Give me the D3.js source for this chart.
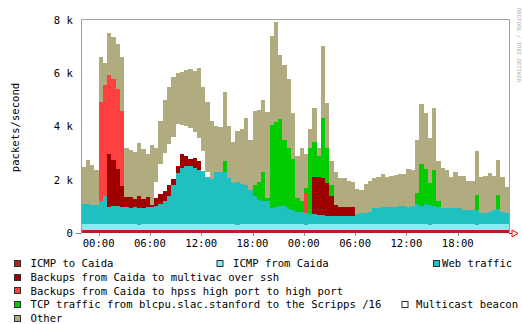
<!DOCTYPE html>
<html>
<head>
<meta charset="utf-8">
<script src="https://cdn.jsdelivr.net/npm/d3@7"></script>
<style>
  html, body { margin: 0; padding: 0; background: #fff; }
  svg { display: block; }
  text { font-family: "DejaVu Sans Mono", monospace; font-size: 10.6px; fill: #000; }
</style>
</head>
<body>
<svg id="chart" width="522" height="324"></svg>
<script>
// Traffic breakdown, packets/second, 30-minute samples starting 22:00.
const seriesKeys = ["icmpTo", "icmpFrom", "web", "multivac", "hpss", "tcp", "multicast", "other"];
const seriesLabels = [
  "ICMP to Caida",
  "ICMP from Caida",
  "Web traffic",
  "Backups from Caida to multivac over ssh",
  "Backups from Caida to hpss high port to high port",
  "TCP traffic from blcpu.slac.stanford to the Scripps /16",
  "Multicast beacon",
  "Other"
];
const yTickValues = [0, 2000, 4000, 6000, 8000];
const yTickLabels = ["0", "2 k", "4 k", "6 k", "8 k"];

const icmpTo = [110,112,108,110,115,110,105,112,110,108, 110,112,110,95,110,108,112,110,110,105,
  110,108,112,110,115,110,108,110,112,110, 105,110,112,108,110,110,95,110,112,110,
  108,110,112,110,105,110,108,112,110,110, 110,108,95,110,112,110,108,110,110,112,
  105,110,108,110,112,110,110,95,110,108, 112,110,110,105,110,112,108,110,110,112,
  110,95,110,108,112,110,110,105,110,108, 112,110,95,110,110,108,112,110,110,105];
const icmpFrom = [215,225,220,218,230,222,220,215,225,220, 218,222,230,220,215,222,220,225,218,220,
  222,215,220,230,220,218,225,220,215,222, 220,225,218,220,222,230,215,220,225,218,
  220,222,215,220,225,230,218,220,222,215, 220,225,220,218,222,215,230,220,225,218,
  222,220,215,225,220,222,218,230,220,215, 225,220,222,218,220,225,215,230,220,222,
  218,220,225,215,222,220,230,218,220,225, 215,222,220,218,225,220,222,230,215,220];
const web = [770,750,730,720,870,1070,670,670,670,650, 650,620,620,640,630,630,650,670,770,890,
  1070,1470,1920,2120,2170,2170,2120,2040,2020,1770, 1720,1970,1970,1970,1720,1540,1600,1520,1470,1270,
  1070,920,870,870,620,620,670,670,570,530, 470,470,450,390,370,350,350,320,300,300,
  300,300,300,320,390,420,420,470,620,620, 650,640,650,670,670,660,660,660,770,670,
  770,720,670,670,620,600,600,620,620,530, 530,530,550,420,410,450,530,570,470,410];
const multivac = [0,0,0,0,0,0,1990,1750,1400,770, 380,410,300,450,340,390,70,300,350,380,
  400,250,250,500,400,300,350,330,0,0, 0,0,0,0,0,0,0,0,0,0,
  0,0,0,0,0,0,0,0,0,0, 0,0,0,0,1400,1420,1370,1220,770,420,
  350,350,350,330,0,0,0,0,0,0, 0,0,0,0,0,0,0,0,0,0,
  0,0,0,0,0,0,0,0,0,0, 0,0,0,0,0,0,0,0,0,0];
const hpss = [0,0,0,0,3700,4160,2940,3050,3000,2850, 0,0,0,0,0,0,0,0,0,0,
  0,0,0,0,0,0,0,0,0,0, 0,0,0,0,0,0,0,0,0,0,
  0,0,0,0,0,0,0,0,0,0, 0,0,720,0,0,0,0,0,0,0,
  0,0,0,0,0,0,0,0,0,0, 0,0,0,0,0,0,0,0,0,0,
  0,0,0,0,0,0,0,0,0,0, 0,0,0,0,0,0,0,0,0,0];
const tcp = [0,0,0,0,0,0,0,0,0,0, 0,0,0,0,0,0,0,0,0,0,
  0,0,0,0,0,0,0,0,0,0, 0,0,0,400,0,0,0,0,0,0,
  400,650,1100,100,3100,3200,3300,2500,2300,1940, 500,400,200,2480,1300,800,2250,1330,400,0,
  0,0,0,0,0,0,0,0,0,0, 0,0,0,0,0,0,0,0,400,1600,
  1300,850,1350,200,0,0,0,0,0,0, 0,0,570,0,0,0,0,500,0,0];
const multicast = [0,0,0,0,0,0,0,0,0,0, 0,0,0,0,0,0,0,600,1150,1400,
  1550,1550,1600,1100,1100,1150,1000,850,750,200, 0,0,0,0,0,0,0,0,0,0,
  0,0,0,0,0,0,0,0,0,0, 0,0,0,0,0,0,0,0,0,0,
  0,0,0,0,0,0,0,0,0,0, 0,0,0,0,0,0,0,0,0,0,
  0,0,0,0,0,0,0,0,0,0, 0,0,0,0,0,0,0,0,0,0];
const other = [1400,1670,1490,1300,1700,840,1570,1550,1700,2000, 1840,1740,1800,1980,1850,1600,2250,1300,1600,2000,
  2150,2250,1900,2000,2100,2200,2300,2650,2400,2600, 2150,1700,1700,2600,1950,1530,1920,2050,2500,1900,
  2800,2700,2700,3250,3350,3750,2400,2800,2600,1700, 1600,2000,1300,700,1300,300,2700,1700,900,1250,
  1070,1070,970,920,930,850,1100,1150,1100,1150, 1220,1130,1170,1200,1200,1210,1410,1360,2000,2250,
  2100,1700,2350,1500,1500,1420,1170,1350,1200,1290, 1090,1090,1650,1350,1410,1470,1290,1350,1300,1010];

const colors = ["#B22222", "#80F0F0", "#20C0C0", "#A00000", "#FF4040", "#00CC00", "#FFFFFF", "#B0AC80"];

const seriesValues = { icmpTo, icmpFrom, web, multivac, hpss, tcp, multicast, other };
const startTime = new Date(2002, 0, 14, 22, 0);
const stepMinutes = 30;
const n = icmpTo.length;

// one row per sample, plus a closing row so the last step gets its full width
const rows = d3.range(n + 1).map(i => {
  const j = Math.min(i, n - 1);
  const r = { time: d3.timeMinute.offset(startTime, stepMinutes * i) };
  seriesKeys.forEach(k => { r[k] = seriesValues[k][j]; });
  return r;
});
const endTime = rows[n].time;

const svg = d3.select("#chart");
const plotLeft = 81.5, plotRight = 509, plotTop = 20, plotBottom = 233;

const x = d3.scaleTime().domain([startTime, endTime]).range([plotLeft, plotRight]);
const y = d3.scaleLinear().domain([0, 8000]).range([plotBottom, plotTop]);

const stacked = d3.stack().keys(seriesKeys)(rows);

const area = d3.area()
  .x(d => x(d.data.time))
  .y0(d => y(d[0]))
  .y1(d => y(d[1]))
  .curve(d3.curveStepAfter);

svg.append("g").selectAll("path")
  .data(stacked)
  .join("path")
  .attr("d", area)
  .attr("fill", (d, i) => colors[i])
  .attr("shape-rendering", "crispEdges");

// frame
svg.append("path")
  .attr("d", `M${plotLeft},${plotBottom} V${plotTop - 0.5} H${plotRight + 0.5} V${plotBottom}`)
  .attr("fill", "none")
  .attr("stroke", "#a0a0a0")
  .attr("stroke-width", 1);

// x axis
const xTicks = x.ticks(d3.timeHour.every(6)).filter(t => t > startTime && t < endTime);
const fmt = d3.timeFormat("%H:%M");
const xAxis = svg.append("g");
xAxis.append("line")
  .attr("x1", 76).attr("x2", plotLeft).attr("y1", plotBottom + 0.5).attr("y2", plotBottom + 0.5)
  .attr("stroke", "#808080");
xAxis.append("line")
  .attr("x1", plotRight).attr("x2", plotRight + 3).attr("y1", plotBottom + 0.5).attr("y2", plotBottom + 0.5)
  .attr("stroke", "#FF0000");
xAxis.append("path")
  .attr("d", `M${plotRight + 3},${plotBottom - 3} L${plotRight + 9},${plotBottom + 0.5} L${plotRight + 3},${plotBottom + 4} Z`)
  .attr("fill", "none")
  .attr("stroke", "#FF0000");
xAxis.selectAll("line.tick")
  .data(xTicks)
  .join("line")
  .attr("class", "tick")
  .attr("x1", d => Math.round(x(d)) + 0.5)
  .attr("x2", d => Math.round(x(d)) + 0.5)
  .attr("y1", plotBottom)
  .attr("y2", plotBottom + 3)
  .attr("stroke", "#909090");
xAxis.selectAll("text")
  .data(xTicks)
  .join("text")
  .attr("x", d => x(d))
  .attr("y", 247)
  .attr("text-anchor", "middle")
  .text(d => fmt(d));

// y axis labels
svg.append("g").selectAll("text")
  .data(yTickValues)
  .join("text")
  .attr("x", 73)
  .attr("y", d => y(d) + 3.8)
  .attr("text-anchor", "end")
  .text((d, i) => yTickLabels[i]);

svg.append("text")
  .attr("transform", "translate(18.5,127.5) rotate(-90)")
  .attr("text-anchor", "middle")
  .text("packets/second");

// vertical credit on the right margin
svg.append("text")
  .attr("transform", "translate(517,8) rotate(90)")
  .style("font-size", "5.6px")
  .style("fill", "#b0b0b0")
  .text("RRDTOOL / TOBI OETIKER");

// legend
const legendPos = [
  { sx: 14, tx: 30.5, row: 0 },
  { sx: 216.5, tx: 233, row: 0 },
  { sx: 433, tx: 442, row: 0 },
  { sx: 14, tx: 30.5, row: 1 },
  { sx: 14, tx: 30.5, row: 2 },
  { sx: 14, tx: 30.5, row: 3 },
  { sx: 401.5, tx: 416, row: 3 },
  { sx: 14, tx: 30.5, row: 4 }
];
const rowY = r => 263.3 + r * 13.75;
const legend = svg.append("g");
seriesKeys.forEach((k, i) => {
  const p = legendPos[i];
  const cy = rowY(p.row);
  legend.append("rect")
    .attr("x", p.sx + 0.5)
    .attr("y", Math.round(cy - 3.5) + 0.5)
    .attr("width", 6)
    .attr("height", 6)
    .attr("fill", colors[i])
    .attr("stroke", "#303030");
  legend.append("text")
    .attr("x", p.tx)
    .attr("y", cy + 3.8)
    .text(seriesLabels[i]);
});
</script>
</body>
</html>
